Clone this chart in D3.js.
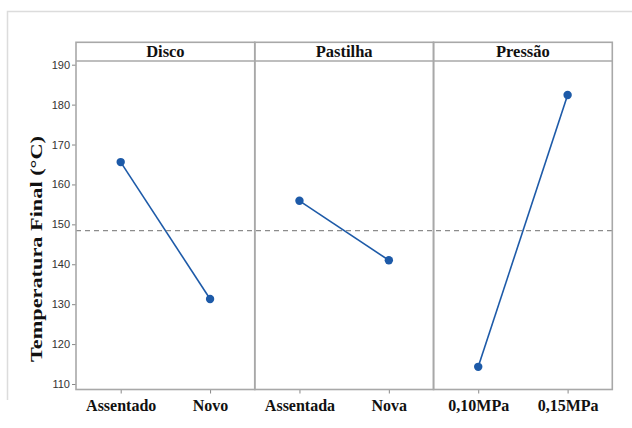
<!DOCTYPE html>
<html>
<head>
<meta charset="utf-8">
<script src="https://cdn.jsdelivr.net/npm/d3@7"></script>
<style>
  html, body { margin: 0; padding: 0; background: #fff; }
  svg { display: block; }
</style>
</head>
<body>
<svg id="chart" width="632" height="428"></svg>
<script>
// Main effects plot for final temperature
const factors = ["Disco", "Pastilha", "Pressão"];
const discoLevels = ["Assentado", "Novo"];
const discoMeans = [165.6, 131.3];
const pastilhaLevels = ["Assentada", "Nova"];
const pastilhaMeans = [155.9, 141.0];
const pressaoLevels = ["0,10MPa", "0,15MPa"];
const pressaoMeans = [114.3, 182.4];
const grandMean = 148.45;
const yTicks = [110, 120, 130, 140, 150, 160, 170, 180, 190];
const yTitle = "Temperatura Final (°C)";

const panels = [
  { name: factors[0], levels: discoLevels, means: discoMeans },
  { name: factors[1], levels: pastilhaLevels, means: pastilhaMeans },
  { name: factors[2], levels: pressaoLevels, means: pressaoMeans }
];

const svg = d3.select("#chart");

const left = 76, right = 612.3;
const stripTop = 42.3, plotTop = 61, plotBottom = 389.5;
const panelW = (right - left) / panels.length;

const y = d3.scaleLinear().domain([110, 190]).range([384, 64.7]);
const px = d3.scaleBand().domain(factors).range([left, right]).padding(0);

const frameColor = "#a8a8a8";
const lineColor = "#1d5aa8";
const serif = "'Liberation Serif', 'Times New Roman', serif";

// outer light frame
svg.append("path")
  .attr("d", "M7.5,400 L7.5,11.5 L640,11.5")
  .attr("fill", "none")
  .attr("stroke", "#dcdcdc")
  .attr("stroke-width", 1.5);

// y axis ticks and labels
const yAxis = d3.axisLeft(y).tickValues(yTicks).tickSize(4).tickPadding(2);
const gy = svg.append("g").attr("transform", `translate(${left},0)`).call(yAxis);
gy.select(".domain").remove();
gy.selectAll(".tick line").attr("stroke", "#888");
gy.selectAll(".tick text")
  .attr("fill", "#333")
  .style("font-family", "'Liberation Sans Narrow', 'Arial Narrow', sans-serif")
  .style("font-size", "11px");

// y title
svg.append("text")
  .attr("transform", `translate(42,249) rotate(-90)`)
  .attr("text-anchor", "middle")
  .attr("textLength", 226)
  .attr("lengthAdjust", "spacingAndGlyphs")
  .style("font-family", serif)
  .style("font-weight", "bold")
  .style("font-size", "17px")
  .attr("fill", "#111")
  .text(yTitle);

panels.forEach(p => {
  const x0 = px(p.name);
  const g = svg.append("g").attr("transform", `translate(${x0},0)`);
  const x = d3.scalePoint().domain(p.levels).range([0, panelW]).padding(0.5);

  // bottom ticks and labels
  const xAxis = d3.axisBottom(x).tickSize(4).tickPadding(0);
  const gx = g.append("g").attr("transform", `translate(0,${plotBottom})`).call(xAxis);
  gx.select(".domain").remove();
  gx.selectAll(".tick line").attr("stroke", "#888");
  gx.selectAll(".tick text")
    .attr("y", 0)
    .attr("dy", 0)
    .attr("transform", "translate(0,21.5)")
    .attr("fill", "#111")
    .style("font-family", serif)
    .style("font-weight", "bold")
    .style("font-size", "16px");

  // strip title
  g.append("text")
    .attr("x", panelW / 2)
    .attr("y", 57)
    .attr("text-anchor", "middle")
    .attr("fill", "#111")
    .style("font-family", serif)
    .style("font-weight", "bold")
    .style("font-size", "16.5px")
    .text(p.name);

  p.x = x;
  p.g = g;
});

// dashed grand mean line
svg.append("line")
  .attr("x1", left).attr("x2", right)
  .attr("y1", y(grandMean)).attr("y2", y(grandMean))
  .attr("stroke", "#8c8c8c")
  .attr("stroke-width", 1.2)
  .attr("stroke-dasharray", "5,4");

// factor level means
panels.forEach(p => {
  const pts = p.levels.map((l, i) => [p.x(l), y(p.means[i])]);
  p.g.append("path")
    .attr("d", d3.line()(pts))
    .attr("fill", "none")
    .attr("stroke", lineColor)
    .attr("stroke-width", 1.6);
  p.g.selectAll("circle.pt")
    .data(pts)
    .join("circle")
    .attr("class", "pt")
    .attr("cx", d => d[0])
    .attr("cy", d => d[1])
    .attr("r", 4.2)
    .attr("fill", lineColor);
});

// panel frames and strips
panels.forEach(p => {
  const x0 = px(p.name);
  svg.append("rect")
    .attr("x", x0).attr("y", stripTop)
    .attr("width", panelW).attr("height", plotBottom - stripTop)
    .attr("fill", "none")
    .attr("stroke", frameColor)
    .attr("stroke-width", 1.6);
});
svg.append("line")
  .attr("x1", left).attr("x2", right)
  .attr("y1", plotTop).attr("y2", plotTop)
  .attr("stroke", frameColor)
  .attr("stroke-width", 1.6);
</script>
</body>
</html>
